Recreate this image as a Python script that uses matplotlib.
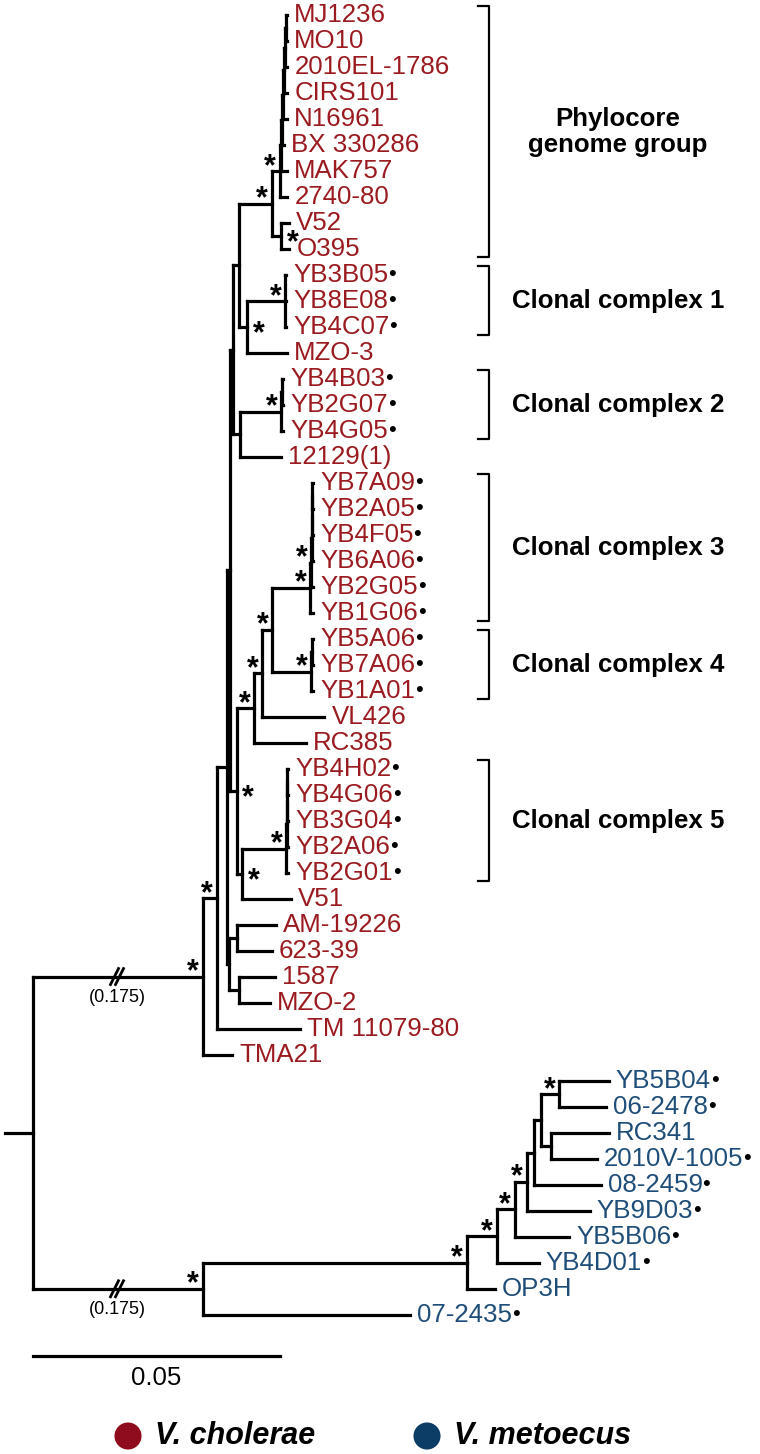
import matplotlib
matplotlib.use("Agg")
import matplotlib.pyplot as plt
from matplotlib.collections import LineCollection

plt.rcParams["font.family"] = ["Liberation Sans", "DejaVu Sans"]

RED = "#9a1a1f"
BLUE = "#1d4d78"


def tip(name, bl):
    return {"name": name, "bl": bl, "kids": [], "star": None, "cut": None}


def node(bl, *kids, star=None, cut=None):
    return {"name": None, "bl": bl, "kids": list(kids), "star": star, "cut": cut}


# ---- tree data (branch lengths in substitutions/site) ----
# phylocore genome group
phylocore_a = node(0.0016,
                   node(0.0004,
                        node(0.0002,
                             node(0.0002,
                                  node(0.0002,
                                       node(0.0002,
                                            node(0.0002, tip("MJ1236", 0.0002), tip("MO10", 0.0002)),
                                            tip("2010EL-1786", 0.0004)),
                                       tip("CIRS101", 0.0006)),
                                  tip("N16961", 0.0008)),
                             tip("BX 330286", 0.0004)),
                        tip("MAK757", 0.0012)),
                   tip("2740-80", 0.0016), star="L")
phylocore_b = node(0.0020, tip("V52", 0.0016), tip("O395", 0.0016), star="R")

cc1 = node(0.0077, tip("YB3B05", 0.0002), tip("YB8E08", 0.0002), tip("YB4C07", 0.0002), star="L")
cc2 = node(0.0083, node(0.0002, tip("YB4B03", 0.0002), tip("YB2G07", 0.0002)),
           tip("YB4G05", 0.0004), star="L")
cc3 = node(0.0077,
           node(0.0002,
                node(0.0002,
                     node(0.0, node(0.0, tip("YB7A09", 0.0002), tip("YB2A05", 0.0002)),
                          tip("YB4F05", 0.0002)),
                     tip("YB6A06", 0.0002)),
                tip("YB2G05", 0.0004), star="L"),
           tip("YB1G06", 0.0006), star="L")
cc4 = node(0.0079, node(0.0002, tip("YB5A06", 0.0002), tip("YB7A06", 0.0002)),
           tip("YB1A01", 0.0004), star="L")
cc5 = node(0.0089,
           node(0.0002,
                node(0.0, node(0.0, tip("YB4H02", 0.0002), tip("YB4G06", 0.0002)),
                     tip("YB3G04", 0.0002)),
                tip("YB2A06", 0.0002)),
           tip("YB2G01", 0.0004), star="L")

upper_block = node(0.0006,
                   node(0.0012,
                        node(0.0067, phylocore_a, phylocore_b, star="L"),
                        node(0.0018, cc1, tip("MZO-3", 0.0081), star="R")),
                   node(0.0016, cc2, tip("12129(1)", 0.0083)))
middle_block = node(0.0014,
                    node(0.0036,
                         node(0.0016,
                              node(0.0020, cc3, cc4, star="L"),
                              tip("VL426", 0.0126), star="L"),
                         tip("RC385", 0.0105), star="L"),
                    node(0.0012, cc5, tip("V51", 0.0099), star="R"),
                    star="R")
cherries = node(0.0004,
                node(0.0016, tip("AM-19226", 0.0079), tip("623-39", 0.0071)),
                node(0.0020, tip("1587", 0.0073), tip("MZO-2", 0.0063)))

cholerae = node(0.0344,
                node(0.0028,
                     node(0.0020, node(0.0006, upper_block, middle_block), cherries),
                     tip("TM 11079-80", 0.0168), star="L"),
                tip("TMA21", 0.0059), star="L", cut="(0.175)")

metoecus = node(0.0344,
                node(0.0534,
                     node(0.0061,
                          node(0.0036,
                               node(0.0024,
                                    node(0.0016,
                                         node(0.0014,
                                              node(0.0036, tip("YB5B04", 0.0101), tip("06-2478", 0.0095), star="L"),
                                              node(0.0020, tip("RC341", 0.0117), tip("2010V-1005", 0.0093))),
                                         tip("08-2459", 0.0134)),
                                    tip("YB9D03", 0.0128), star="L"),
                               tip("YB5B06", 0.0111), star="L"),
                          tip("YB4D01", 0.0085), star="L"),
                     tip("OP3H", 0.0057), star="L"),
                tip("07-2435", 0.0419), star="L", cut="(0.175)")

root = node(0.0057, cholerae, metoecus)

dotted = ["YB3B05", "YB8E08", "YB4C07", "YB4B03", "YB2G07", "YB4G05",
          "YB7A09", "YB2A05", "YB4F05", "YB6A06", "YB2G05", "YB1G06",
          "YB5A06", "YB7A06", "YB1A01", "YB4H02", "YB4G06", "YB3G04",
          "YB2A06", "YB2G01", "YB5B04", "06-2478", "2010V-1005", "08-2459",
          "YB9D03", "YB5B06", "YB4D01", "07-2435"]

groups = [("Phylocore\ngenome group", "MJ1236", "O395"),
          ("Clonal complex 1", "YB3B05", "YB4C07"),
          ("Clonal complex 2", "YB4B03", "YB4G05"),
          ("Clonal complex 3", "YB7A09", "YB1G06"),
          ("Clonal complex 4", "YB5A06", "YB1A01"),
          ("Clonal complex 5", "YB4H02", "YB2G01")]

scale_len = 0.05
species = [("V. cholerae", "#8e0c1c"), ("V. metoecus", "#0c3d66")]


# ---- layout ----
tips = []


def layout(n, x0):
    n["x0"] = x0
    n["x"] = x0 + n["bl"]
    if not n["kids"]:
        n["y"] = len(tips)
        tips.append(n)
    else:
        for k in n["kids"]:
            layout(k, n["x"])
        n["y"] = (n["kids"][0]["y"] + n["kids"][-1]["y"]) / 2


def walk(n):
    yield n
    for k in n["kids"]:
        yield from walk(k)


layout(root, -root["bl"])
blue_names = {n["name"] for n in walk(metoecus) if n["name"]}
tip_y = {t["name"]: t["y"] for t in tips}


# pixel helpers for placing decorations
def px(v):
    return (v - 33) / 4940


def py(v):
    return (v - 15) / 26


fig = plt.figure(figsize=(7.6, 14.54), dpi=100)
ax = fig.add_axes([0, 0, 1, 1])
ax.set_xlim(px(0), px(760))
ax.set_ylim(py(1454), py(0))
ax.axis("off")

segs = []
for n in walk(root):
    segs.append([(n["x0"], n["y"]), (n["x"], n["y"])])
    if n["kids"]:
        segs.append([(n["x"], n["kids"][0]["y"]), (n["x"], n["kids"][-1]["y"])])
ax.add_collection(LineCollection(segs, colors="black", linewidths=2.3, capstyle="projecting"))

for n in walk(root):
    if n["star"] == "L":
        ax.annotate("*", (n["x"], n["y"]), xytext=(-7, 3), textcoords="offset points",
                    ha="center", va="center", fontsize=22, fontweight="bold")
    elif n["star"] == "R":
        ax.annotate("*", (n["x"], n["y"]), xytext=(8, -5), textcoords="offset points",
                    ha="center", va="center", fontsize=22, fontweight="bold")
    if n["cut"]:
        xb = n["x0"] + px(117)
        for dx in (-2.5, 2.5):
            ax.plot([xb + (dx - 4) / 4940, xb + (dx + 4) / 4940],
                    [n["y"] + 8 / 26, n["y"] - 8 / 26], color="black", lw=2.0)
        ax.text(xb, n["y"] + 0.8, n["cut"], ha="center", va="center", fontsize=13)

for t in tips:
    col = BLUE if t["name"] in blue_names else RED
    lab = ax.annotate(t["name"], (t["x"], t["y"]), xytext=(5, 0), textcoords="offset points",
                      ha="left", va="center", fontsize=18.6, color=col)
    if t["name"] in dotted:
        ax.annotate("\u2022", (1, 0.5), xycoords=lab, xytext=(0, 0), textcoords="offset points",
                    ha="left", va="center", fontsize=16, color="black")

# clade brackets
for label, first, last in groups:
    y0 = tip_y[first] - 0.36
    y1 = tip_y[last] + 0.32
    ax.plot([px(478), px(489), px(489), px(478)], [y0, y0, y1, y1], color="black", lw=1.6)
    ax.text(px(618), (tip_y[first] + tip_y[last]) / 2, label, ha="center", va="center",
            fontsize=18.6, fontweight="bold", linespacing=1.15)

# scale bar
ax.plot([0, scale_len], [py(1356), py(1356)], color="black", lw=2.3)
ax.text(scale_len / 2, py(1378), f"{scale_len:g}", ha="center", va="center", fontsize=18.6)

# species legend
for (name, col), cx in zip(species, (128, 427)):
    ax.scatter([px(cx)], [py(1436)], s=380, color=col, edgecolors="none")
    ax.text(px(cx + 27), py(1436), name, ha="left", va="center", fontsize=22,
            fontweight="bold", fontstyle="italic")

fig.savefig("out.png", dpi=100)
